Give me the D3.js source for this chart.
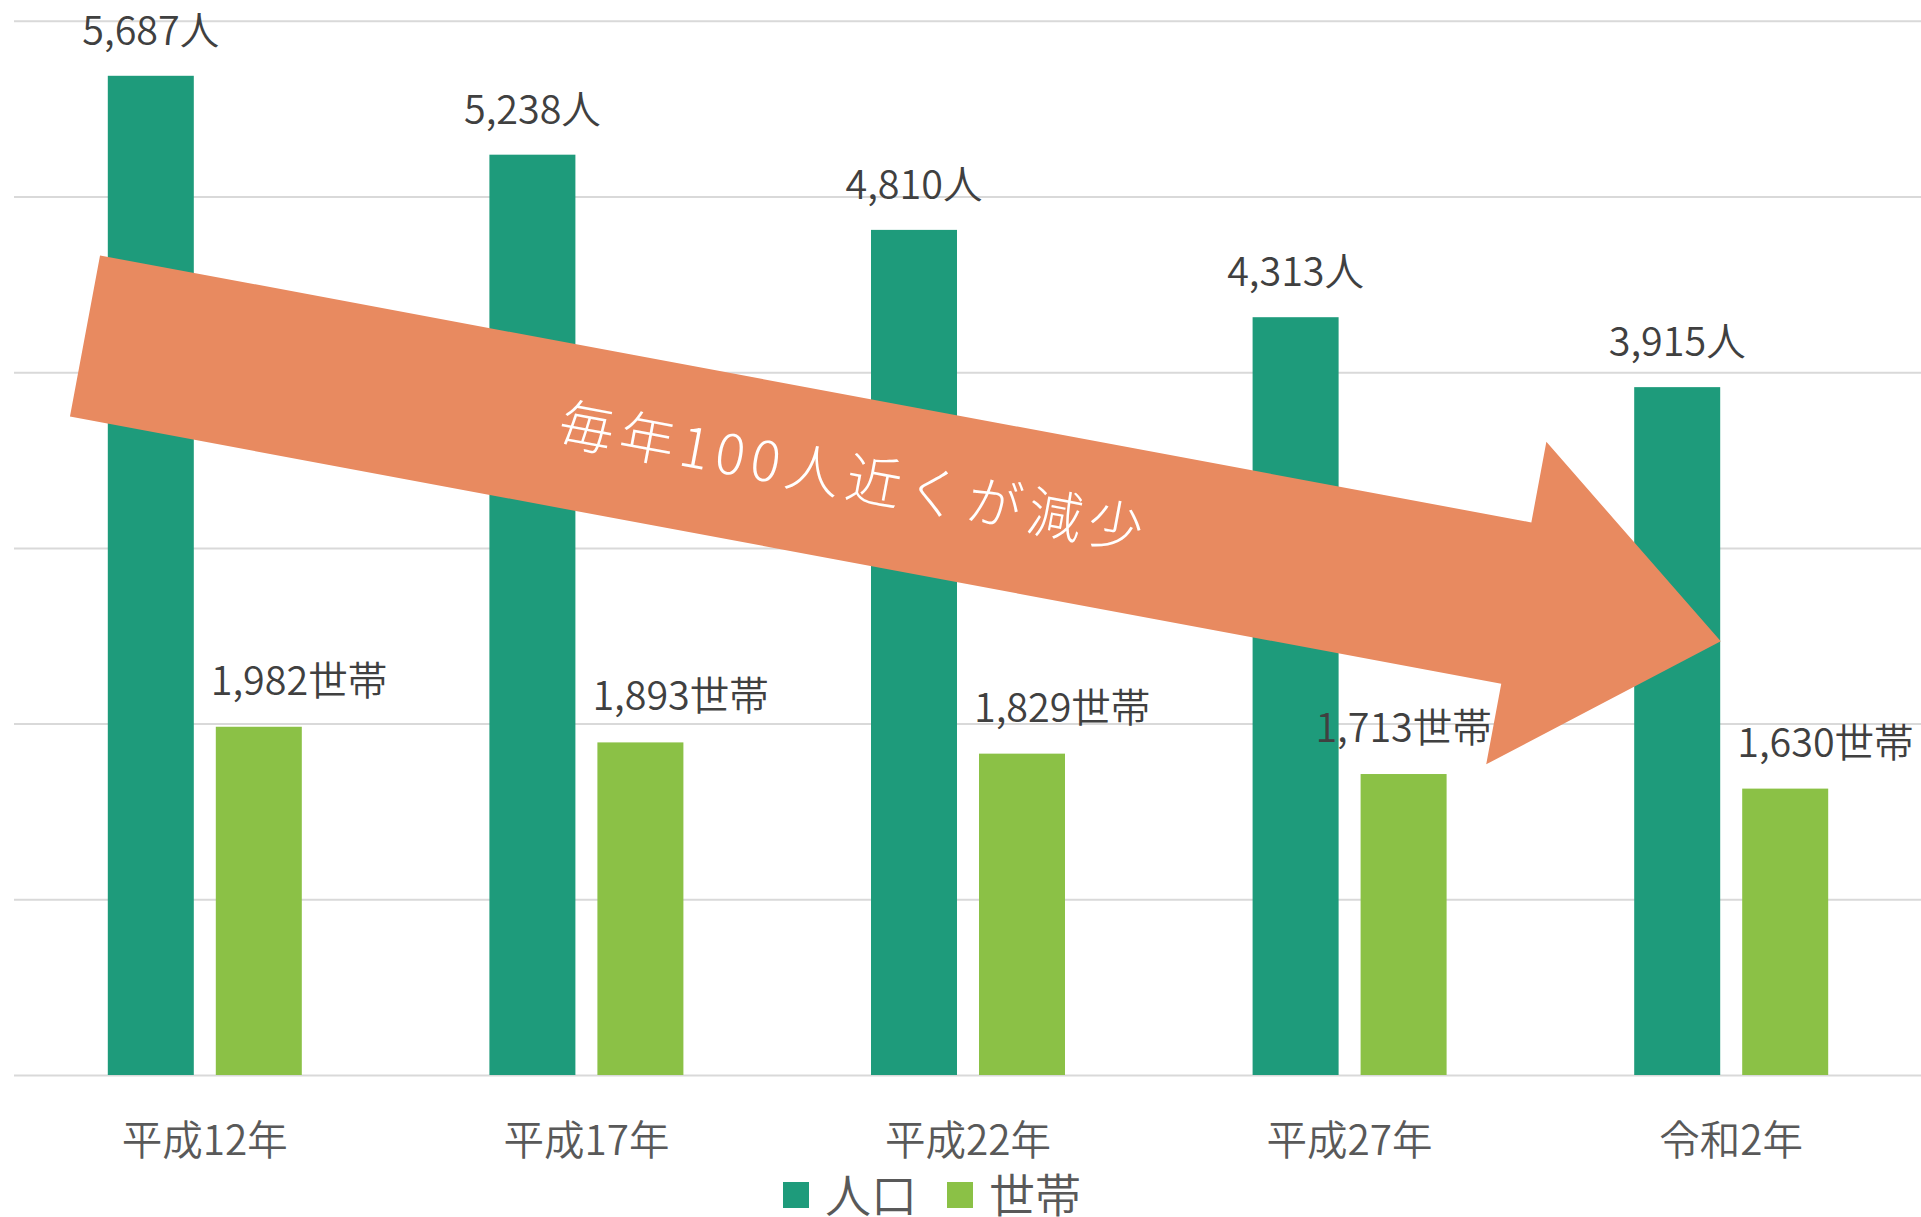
<!DOCTYPE html>
<html>
<head>
<meta charset="utf-8">
<script src="https://cdn.jsdelivr.net/npm/d3@7"></script>
<style>
  html, body { margin: 0; padding: 0; background: #fff; }
  svg text { font-family: "Noto Sans CJK JP", "Noto Sans", sans-serif; }
</style>
</head>
<body>
<div id="chart"></div>
<script>
const years = ["平成12年", "平成17年", "平成22年", "平成27年", "令和2年"];
const seriesNames = ["人口", "世帯"];
const population = [5687, 5238, 4810, 4313, 3915];
const households = [1982, 1893, 1829, 1713, 1630];
const yTicks = [0, 1000, 2000, 3000, 4000, 5000, 6000];
const arrowText = "毎年100人近くが減少";

const width = 1921, height = 1217;
const plot = { left: 14, right: 1922, top: 20.8, bottom: 1075 };
const colors = { "人口": "#1e9b7b", "世帯": "#8bc146" };

const svg = d3.select("#chart").append("svg")
    .attr("width", width)
    .attr("height", height);

const x = d3.scaleBand().domain(years).range([plot.left, plot.right]);
const xSub = d3.scaleBand().domain(seriesNames)
    .range([0, x.bandwidth()])
    .paddingInner(0.2037)
    .paddingOuter(0.8685);
const y = d3.scaleLinear().domain([0, 6000]).range([plot.bottom, plot.top]);

// gridlines (no tick labels in the original)
const grid = svg.append("g")
    .attr("transform", `translate(${plot.left},0)`)
    .call(d3.axisLeft(y).tickValues(yTicks).tickSize(-(plot.right - plot.left)).tickFormat(""));
grid.select(".domain").remove();
grid.selectAll("line").attr("stroke", "#d9d9d9").attr("stroke-width", 2);

const rows = years.map((yr, i) => ({ year: yr, i, "人口": population[i], "世帯": households[i] }));

const groups = svg.selectAll(".group").data(rows).enter().append("g")
    .attr("class", "group")
    .attr("transform", d => `translate(${x(d.year)},0)`);

groups.selectAll("rect")
    .data(d => seriesNames.map(s => ({ key: s, value: d[s] })))
    .enter().append("rect")
    .attr("x", d => xSub(d.key))
    .attr("y", d => y(d.value))
    .attr("width", xSub.bandwidth())
    .attr("height", d => y(0) - y(d.value))
    .attr("fill", d => colors[d.key]);

const fmt = d3.format(",");

// population labels, centred over the bar
groups.append("text")
    .attr("x", xSub("人口") + xSub.bandwidth() / 2)
    .attr("y", d => y(d["人口"]) - 31)
    .attr("text-anchor", "middle")
    .style("font-size", "39.5px")
    .style("font-weight", 350)
    .style("fill", "#404040")
    .text(d => fmt(d["人口"]) + "人");

// household labels, sitting from the bar's left edge (4th one is centred)
groups.append("text")
    .attr("x", d => d.i === 3 ? xSub("世帯") + xSub.bandwidth() / 2 : xSub("世帯") - 5)
    .attr("y", d => y(d["世帯"]) - 32)
    .attr("text-anchor", d => d.i === 3 ? "middle" : "start")
    .style("font-size", "39.5px")
    .style("font-weight", 350)
    .style("fill", "#404040")
    .text(d => fmt(d["世帯"]) + "世帯");

// category labels
svg.selectAll(".cat").data(years).enter().append("text")
    .attr("class", "cat")
    .attr("x", d => x(d) + x.bandwidth() / 2)
    .attr("y", 1155)
    .attr("text-anchor", "middle")
    .style("font-size", "40.5px")
    .style("font-weight", 350)
    .style("fill", "#595959")
    .text(d => d);

// big annotation arrow
const arrow = svg.append("g")
    .attr("transform", "translate(85,336) rotate(10.57)");

arrow.append("path")
    .attr("d", "M0,-82 L1456,-82 L1456,-164 L1664,0 L1456,164 L1456,82 L0,82 Z")
    .attr("fill", "#e88a60");

arrow.append("text")
    .attr("x", 779)
    .attr("y", -6)
    .attr("text-anchor", "middle")
    .attr("dominant-baseline", "central")
    .attr("textLength", 593)
    .attr("lengthAdjust", "spacing")
    .style("font-size", "55px")
    .style("font-weight", 300)
    .style("fill", "#fff")
    .text(arrowText);

// legend
const legendX = [783, 947];
const legend = svg.selectAll(".legend").data(seriesNames).enter().append("g")
    .attr("class", "legend")
    .attr("transform", (d, i) => `translate(${legendX[i]},1182)`);

legend.append("rect")
    .attr("width", 26)
    .attr("height", 26)
    .attr("fill", d => colors[d]);

legend.append("text")
    .attr("x", 42)
    .attr("y", 10)
    .attr("dominant-baseline", "central")
    .style("font-size", "46px")
    .style("font-weight", 350)
    .style("fill", "#595959")
    .text(d => d);
</script>
</body>
</html>
